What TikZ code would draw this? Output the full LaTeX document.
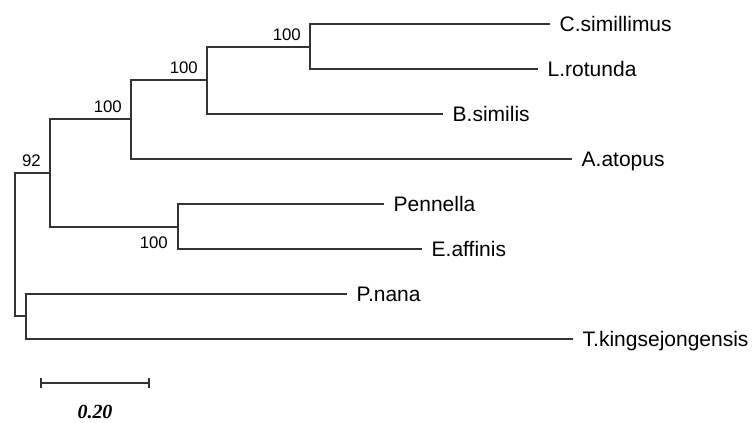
\documentclass[tikz,border=0pt]{standalone}
\usepackage{fontspec}
\setmainfont{Liberation Sans}
\newfontfamily\scalefont{Liberation Serif}
\begin{document}
\begin{tikzpicture}[x=1pt,y=-1pt,
  branch/.style={line width=1.1pt,color=black!80},
  leaf/.style={anchor=base west,inner sep=0pt,xshift=9.5pt,yshift=-7.5pt,font=\fontsize{21}{24}\selectfont},
  boot/.style={anchor=base east,inner sep=0pt,font=\fontsize{16.8}{19}\selectfont},
  scalelbl/.style={inner sep=0pt,font=\scalefont\bfseries\itshape\fontsize{20}{22}\selectfont}]
\useasboundingbox (0,0) rectangle (756,423);
% internal nodes
\coordinate (R) at (15,244.5);
\coordinate (A) at (50,173);
\coordinate (B) at (131,119);
\coordinate (C) at (207,80);
\coordinate (D) at (310,47);
\coordinate (E) at (178,227);
\coordinate (F) at (26,316);
% leaf tips
\coordinate (lC) at (550,24);
\coordinate (lL) at (538,69);
\coordinate (lB) at (443,114);
\coordinate (lA) at (572,159);
\coordinate (lP) at (384,204);
\coordinate (lE) at (422,249);
\coordinate (lN) at (347,294);
\coordinate (lT) at (573,339);
% branches
\draw[branch] (A) -| (R) |- (F);
\draw[branch] (B) -| (A) |- (E);
\draw[branch] (C) -| (B) |- (lA);
\draw[branch] (D) -| (C) |- (lB);
\draw[branch] (lC) -| (D) |- (lL);
\draw[branch] (lP) -| (E) |- (lE);
\draw[branch] (lN) -| (F) |- (lT);
% leaf labels
\node[leaf] (tC) at (lC) {C.simillimus};
\node[leaf] (tL) at (lL) {L.rotunda};
\node[leaf] (tB) at (lB) {B.similis};
\node[leaf] (tA) at (lA) {A.atopus};
\node[leaf] (tP) at (lP) {Pennella};
\node[leaf] (tE) at (lE) {E.affinis};
\node[leaf] (tN) at (lN) {P.nana};
\node[leaf] (tT) at (lT) {T.kingsejongensis};
% bootstrap values
\node[boot] (bA) at ([xshift=-9pt,yshift=6.5pt]A) {92};
\node[boot] (bB) at ([xshift=-9pt,yshift=7pt]B) {100};
\node[boot] (bC) at ([xshift=-9pt,yshift=7pt]C) {100};
\node[boot] (bD) at ([xshift=-9pt,yshift=7pt]D) {100};
\node[boot] (bE) at ([xshift=-10pt,yshift=-21pt]E) {100};
% scale bar
\coordinate (s1) at (41,383);
\coordinate (s2) at (149,383);
\draw[branch] (s1) -- (s2);
\draw[branch] ([yshift=-5pt]s1) -- ([yshift=5pt]s1);
\draw[branch] ([yshift=-5pt]s2) -- ([yshift=5pt]s2);
\node[scalelbl] (sl) at (95,412) {0.20};
\end{tikzpicture}
\end{document}
